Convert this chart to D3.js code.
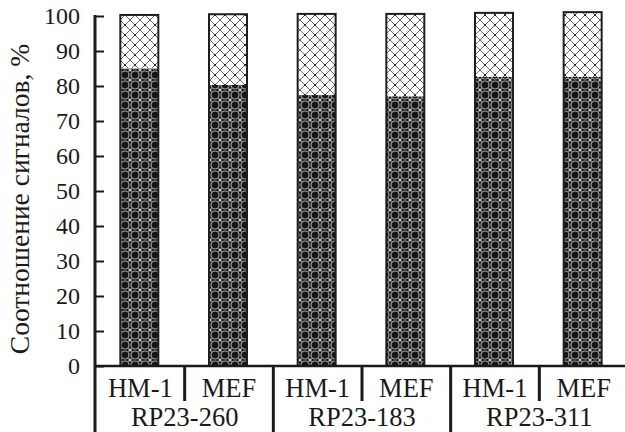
<!DOCTYPE html>
<html>
<head>
<meta charset="utf-8">
<script src="https://cdn.jsdelivr.net/npm/d3@7"></script>
<style>
  html, body { margin: 0; padding: 0; background: #fff; }
  svg { display: block; }
  text { font-family: "Liberation Serif", "DejaVu Serif", serif; fill: #1a1a1a; }
</style>
</head>
<body>
<svg id="chart" width="625" height="432"></svg>
<script>
// Cell lines within each construct
const lines = ["HM-1", "MEF", "HM-1", "MEF", "HM-1", "MEF"];
// Constructs (each groups two cell lines)
const constructs = ["RP23-260", "RP23-183", "RP23-311"];
// Lower (dark) segment share, %
const lowerShare = [85, 80.3, 77.4, 77, 82.6, 82.6];
// Upper (light) segment share, %
const upperShare = [15.3, 20.2, 23.2, 23.6, 18.3, 18.5];
// Y axis ticks
const yTicks = [0, 10, 20, 30, 40, 50, 60, 70, 80, 90, 100];
const yTitle = "Соотношение сигналов, %";

const svg = d3.select("#chart");
const axisX = 95, baseY = 366, topY = 16, rightX = 628;

const y = d3.scaleLinear().domain([0, 100]).range([baseY, topY]);
const idx = d3.range(lines.length);
const x = d3.scaleBand().domain(idx).range([axisX + 1, rightX]).paddingInner(0).paddingOuter(0);
const barW = 38;

// Fill patterns for the two segments
const defs = svg.append("defs");
const dark = defs.append("pattern").attr("id", "darkFill")
  .attr("patternUnits", "userSpaceOnUse").attr("width", 10).attr("height", 10);
dark.append("rect").attr("width", 10).attr("height", 10).attr("fill", "#151515");
dark.append("circle").attr("cx", 5).attr("cy", 5).attr("r", 4)
  .attr("fill", "none").attr("stroke", "#a0a0a0").attr("stroke-width", 1.2);
dark.append("path").attr("d", "M0,0 L1.5,1.5 M10,0 L8.5,1.5 M0,10 L1.5,8.5 M10,10 L8.5,8.5")
  .attr("stroke", "#d0d0d0").attr("stroke-width", 1.2);

const light = defs.append("pattern").attr("id", "lightFill")
  .attr("patternUnits", "userSpaceOnUse").attr("width", 10).attr("height", 10);
light.append("rect").attr("width", 10).attr("height", 10).attr("fill", "#fff");
light.append("path").attr("d", "M0,0 L10,10 M10,0 L0,10")
  .attr("stroke", "#666").attr("stroke-width", 1).attr("fill", "none");
light.append("path").attr("d", "M4,5 L6,5 M5,4 L5,6 M0,0 L0,0")
  .attr("stroke", "#111").attr("stroke-width", 1).attr("fill", "none");

// Stacked bars
const g = svg.append("g");
idx.forEach(i => {
  const cx = x(i) + x.bandwidth() / 2 - 1;
  const x0 = cx - barW / 2;
  const total = lowerShare[i] + upperShare[i];
  g.append("rect").attr("x", x0).attr("y", y(total)).attr("width", barW)
    .attr("height", y(lowerShare[i]) - y(total)).attr("fill", "url(#lightFill)");
  g.append("rect").attr("x", x0).attr("y", y(lowerShare[i])).attr("width", barW)
    .attr("height", y(0) - y(lowerShare[i])).attr("fill", "url(#darkFill)");
  g.append("rect").attr("x", x0).attr("y", y(total)).attr("width", barW)
    .attr("height", y(0) - y(total)).attr("fill", "none")
    .attr("stroke", "#1e1e1e").attr("stroke-width", 2);
});

// Y axis with inward ticks
const yAxis = d3.axisRight(y).tickValues(yTicks).tickSize(9).tickFormat("");
const ya = svg.append("g").attr("transform", `translate(${axisX},0)`).call(yAxis);
ya.select(".domain").remove();
ya.selectAll(".tick line").attr("stroke", "#1a1a1a").attr("stroke-width", 2);
svg.append("line").attr("x1", axisX).attr("x2", axisX).attr("y1", topY - 1).attr("y2", 432)
  .attr("stroke", "#1a1a1a").attr("stroke-width", 3);

svg.append("g").selectAll("text").data(yTicks).join("text")
  .attr("x", 80).attr("y", d => y(d)).attr("dy", "0.35em")
  .attr("text-anchor", "end").attr("font-size", 24)
  .text(d => d);

// Y title
svg.append("text")
  .attr("transform", `translate(29,${(topY + baseY) / 2 + 8}) rotate(-90)`)
  .attr("text-anchor", "middle").attr("font-size", 27.5)
  .text(yTitle);

// Baseline
svg.append("line").attr("x1", axisX).attr("x2", 625).attr("y1", baseY).attr("y2", baseY)
  .attr("stroke", "#1a1a1a").attr("stroke-width", 2.5);

// Separators under the axis
idx.slice(1).forEach(i => {
  const major = i % 2 === 0;
  svg.append("line").attr("x1", x(i)).attr("x2", x(i))
    .attr("y1", baseY).attr("y2", major ? 432 : 401)
    .attr("stroke", "#1a1a1a").attr("stroke-width", 3);
});

// Cell line labels
svg.append("g").selectAll("text").data(idx).join("text")
  .attr("x", i => x(i) + x.bandwidth() / 2)
  .attr("y", 397).attr("text-anchor", "middle").attr("font-size", 26.5)
  .text(i => lines[i]);

// Construct labels
svg.append("g").selectAll("text").data(constructs).join("text")
  .attr("x", (d, k) => x(k * 2 + 1))
  .attr("y", 426).attr("text-anchor", "middle").attr("font-size", 26.5)
  .text(d => d);
</script>
</body>
</html>
